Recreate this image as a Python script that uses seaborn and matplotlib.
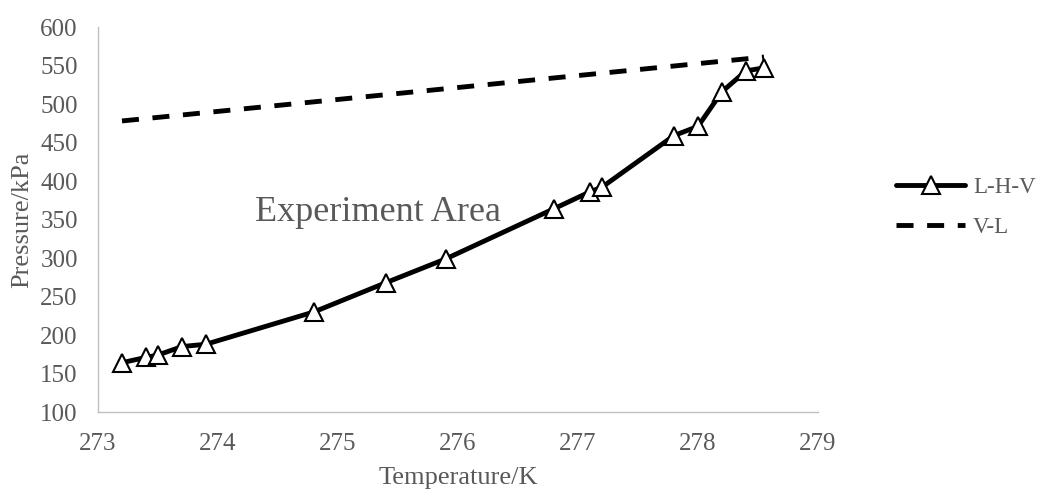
import pandas as pd
import matplotlib
matplotlib.use("Agg")
import matplotlib.pyplot as plt
import seaborn as sns

########################################################################
# data
########################################################################
temp_lhv = [273.2, 273.4, 273.5, 273.7, 273.9, 274.8, 275.4, 275.9,
            276.8, 277.1, 277.2, 277.8, 278.0, 278.2, 278.4, 278.55]
press_lhv = [164, 171, 174, 185, 188, 230, 268, 299,
             364, 386, 392, 459, 471, 516, 543, 547]

temp_vl = [273.2, 278.55]
press_vl = [478, 561]

x_ticks = [273, 274, 275, 276, 277, 278, 279]
y_ticks = [100, 150, 200, 250, 300, 350, 400, 450, 500, 550, 600]

lhv = pd.DataFrame({"T": temp_lhv, "P": press_lhv})
vl = pd.DataFrame({"T": temp_vl, "P": press_vl})

########################################################################
# style
########################################################################
sns.set_style("white")
plt.rcParams["font.family"] = ["Liberation Serif", "DejaVu Serif"]
grey = "#595959"

fig = plt.figure(figsize=(10.39, 4.92), dpi=100)
ax = fig.add_axes([0.0943, 0.1626, 0.6930, 0.7825])

sns.lineplot(data=lhv, x="T", y="P", ax=ax, color="black", linewidth=3.5,
             marker="^", markersize=13, markerfacecolor="white",
             markeredgecolor="black", markeredgewidth=1.5, label="L-H-V")
sns.lineplot(data=vl, x="T", y="P", ax=ax, color="black", linewidth=3.5,
             label="V-L")
ax.lines[1].set_dashes([3.5, 2.8])

ax.set_xlim(273, 279)
ax.set_ylim(100, 600)
ax.set_xticks(x_ticks)
ax.set_yticks(y_ticks)
ax.tick_params(length=0, labelsize=18, labelcolor=grey)
ax.tick_params(axis="x", pad=15)
ax.tick_params(axis="y", pad=14.5)

for s in ["top", "right"]:
    ax.spines[s].set_visible(False)
for s in ["left", "bottom"]:
    ax.spines[s].set_color("#bfbfbf")
    ax.spines[s].set_linewidth(1)

ax.set_xlabel("Temperature/K", fontsize=19, color=grey)
ax.set_ylabel("Pressure/kPa", fontsize=19, color=grey)
ax.xaxis.set_label_coords(0.5, -0.172)
ax.xaxis.label.set_va("center")
ax.yaxis.set_label_coords(-0.105, 0.5)
ax.yaxis.label.set_va("center")

ax.text(274.31, 348, "Experiment Area", fontsize=26, color=grey,
        ha="left", va="baseline")

leg = ax.legend(loc="center left", bbox_to_anchor=(1.08, 0.531), frameon=False,
                fontsize=16.5, handlelength=3.0, numpoints=1,
                labelspacing=0.8, handletextpad=0.35)
for t in leg.get_texts():
    t.set_color(grey)

plt.savefig("out.png", dpi=100)
